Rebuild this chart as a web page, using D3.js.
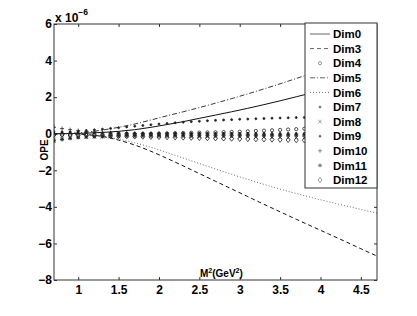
<!DOCTYPE html>
<html>
<head>
<meta charset="utf-8">
<script src="https://cdn.jsdelivr.net/npm/d3@7"></script>
<style>
  body { margin: 0; background: #fff; }
  svg { display: block; font-family: "Liberation Sans", Arial, Helvetica, sans-serif; font-weight: bold; }
</style>
</head>
<body>
<svg width="417" height="316"></svg>
<script>
// values in units of 1e-6
var lineM2 = [0.7,0.9,1.1,1.3,1.5,1.7,1.9,2.1,2.3,2.5,2.7,2.9,3.1,3.3,3.5,3.7,3.9,4.1,4.3,4.5,4.7];
var dim0 = [0.00,0.01,0.03,0.07,0.13,0.22,0.35,0.50,0.66,0.84,1.02,1.20,1.39,1.59,1.80,2.02,2.24,2.46,2.68,2.90,3.12];
var dim3 = [0.00,-0.01,-0.05,-0.15,-0.35,-0.62,-0.96,-1.35,-1.76,-2.18,-2.60,-3.02,-3.44,-3.86,-4.27,-4.68,-5.08,-5.48,-5.88,-6.29,-6.69];
var dim5 = [0.00,0.02,0.08,0.20,0.35,0.53,0.75,0.98,1.20,1.43,1.67,1.92,2.18,2.45,2.73,3.02,3.32,3.63,3.95,4.28,4.62];
var dim6 = [0.00,-0.01,-0.05,-0.14,-0.30,-0.50,-0.74,-1.03,-1.33,-1.63,-1.93,-2.22,-2.50,-2.77,-3.03,-3.27,-3.50,-3.72,-3.93,-4.14,-4.34];

var m2 = [0.7,0.8,0.9,
  1.0,1.1,1.2,1.3,1.4,1.5,1.6,1.7,1.8,1.9,
  2.0,2.1,2.2,2.3,2.4,2.5,2.6,2.7,2.8,2.9,
  3.0,3.1,3.2,3.3,3.4,3.5,3.6,3.7,3.8,3.9,
  4.0,4.1,4.2,4.3,4.4,4.5,4.6,4.7];
var dim4 = [-0.06,-0.05,-0.05,
  -0.04,-0.04,-0.03,-0.03,-0.02,-0.02,-0.01,-0.01,0.00,0.00,
  0.01,0.02,0.03,0.04,0.05,0.06,0.07,0.08,0.09,0.10,
  0.11,0.13,0.15,0.17,0.19,0.21,0.23,0.25,0.27,0.29,
  0.31,0.33,0.35,0.37,0.39,0.41,0.43,0.45];
var dim7 = [0.12,0.10,0.08,
  0.07,0.06,0.05,0.05,0.04,0.04,0.04,0.03,0.03,0.03,
  0.03,0.03,0.03,0.02,0.02,0.02,0.02,0.02,0.02,0.02,
  0.02,0.02,0.02,0.02,0.01,0.01,0.01,0.01,0.01,0.01,
  0.01,0.01,0.01,0.01,0.01,0.01,0.01,0.01];
var dim8 = [-0.30,-0.26,-0.23,
  -0.21,-0.19,-0.18,-0.17,-0.16,-0.16,-0.15,-0.15,-0.15,-0.15,
  -0.15,-0.15,-0.15,-0.15,-0.16,-0.16,-0.16,-0.17,-0.17,-0.17,
  -0.18,-0.18,-0.19,-0.19,-0.20,-0.20,-0.21,-0.21,-0.22,-0.22,
  -0.23,-0.23,-0.24,-0.24,-0.25,-0.25,-0.26,-0.26];
var dim9 = [0.02,0.05,0.09,
  0.13,0.17,0.21,0.25,0.29,0.33,0.37,0.41,0.45,0.49,
  0.53,0.56,0.60,0.63,0.66,0.68,0.71,0.73,0.75,0.77,
  0.79,0.80,0.82,0.83,0.85,0.86,0.87,0.88,0.89,0.90,
  0.90,0.91,0.91,0.92,0.92,0.92,0.93,0.93];
var dim10 = [0.35,0.28,0.22,
  0.17,0.13,0.10,0.07,0.05,0.03,0.02,0.01,0.00,0.00,
  -0.01,-0.01,-0.01,-0.01,-0.02,-0.02,-0.02,-0.02,-0.02,-0.02,
  -0.03,-0.03,-0.03,-0.03,-0.03,-0.03,-0.03,-0.03,-0.03,-0.03,
  -0.04,-0.04,-0.04,-0.04,-0.04,-0.04,-0.04,-0.04];
var dim11 = [-0.40,-0.32,-0.26,
  -0.21,-0.18,-0.15,-0.13,-0.12,-0.11,-0.10,-0.10,-0.09,-0.09,
  -0.09,-0.09,-0.09,-0.09,-0.09,-0.09,-0.09,-0.09,-0.09,-0.09,
  -0.09,-0.09,-0.09,-0.09,-0.09,-0.09,-0.09,-0.09,-0.09,-0.09,
  -0.09,-0.09,-0.09,-0.09,-0.09,-0.09,-0.09,-0.09];
var dim12 = [-0.05,-0.06,-0.07,
  -0.08,-0.09,-0.10,-0.11,-0.12,-0.13,-0.14,-0.15,-0.16,-0.17,
  -0.18,-0.19,-0.20,-0.21,-0.22,-0.23,-0.24,-0.25,-0.26,-0.27,
  -0.28,-0.29,-0.30,-0.31,-0.32,-0.33,-0.34,-0.35,-0.36,-0.37,
  -0.38,-0.39,-0.40,-0.41,-0.42,-0.43,-0.44,-0.45];

var xTicks = [1,1.5,2,2.5,3,3.5,4,4.5];
var yTicks = [-8,-6,-4,-2,0,2,4,6];

var lineSeries = [
  {name:'Dim0', values: dim0, dash: null, color:'#111', w:1},
  {name:'Dim3', values: dim3, dash: '4,3', color:'#111', w:1},
  {name:'Dim5', values: dim5, dash: '5,2,1,2', color:'#222', w:0.9},
  {name:'Dim6', values: dim6, dash: '1,2', color:'#444', w:0.8}
];
var markSeries = [
  {name:'Dim4', values: dim4, mark:'o'},
  {name:'Dim7', values: dim7, mark:'s'},
  {name:'Dim8', values: dim8, mark:'x'},
  {name:'Dim9', values: dim9, mark:'.'},
  {name:'Dim10', values: dim10, mark:'+'},
  {name:'Dim11', values: dim11, mark:'*'},
  {name:'Dim12', values: dim12, mark:'d'}
];
var legendOrder = ['Dim0','Dim3','Dim4','Dim5','Dim6','Dim7','Dim8','Dim9','Dim10','Dim11','Dim12'];

var plotLeft = 54, plotRight = 377, plotTop = 24, plotBottom = 280;
var axisColor = '#333';

var svg = d3.select('svg');
var x = d3.scaleLinear().domain([0.7, 4.7]).range([plotLeft, plotRight]);
var y = d3.scaleLinear().domain([-8, 6]).range([plotBottom, plotTop]);

svg.append('clipPath').attr('id','clip')
  .append('rect').attr('x', plotLeft).attr('y', plotTop).attr('width', plotRight-plotLeft).attr('height', plotBottom-plotTop);

// axes, inward ticks on all four sides
var gx = svg.append('g').attr('transform','translate(0,' + plotBottom + ')')
  .call(d3.axisBottom(x).tickValues(xTicks).tickFormat(d3.format('')).tickSizeInner(-3).tickSizeOuter(0).tickPadding(5.5));
var gy = svg.append('g').attr('transform','translate(' + plotLeft + ',0)')
  .call(d3.axisLeft(y).tickValues(yTicks).tickSizeInner(-3).tickSizeOuter(0).tickPadding(2));
var gt = svg.append('g').attr('transform','translate(0,' + plotTop + ')')
  .call(d3.axisTop(x).tickValues(xTicks).tickFormat('').tickSizeInner(-3).tickSizeOuter(0));
var gr = svg.append('g').attr('transform','translate(' + plotRight + ',0)')
  .call(d3.axisRight(y).tickValues(yTicks).tickFormat('').tickSizeInner(-3).tickSizeOuter(0));
[gx, gy, gt, gr].forEach(function(g){
  g.select('.domain').remove();
  g.selectAll('line').attr('stroke', axisColor);
  g.selectAll('text').attr('fill','#000').style('font-size','12px').style('font-weight','bold')
    .style('font-family','"Liberation Sans", Arial, sans-serif');
});

svg.append('rect').attr('x', plotLeft).attr('y', plotTop).attr('width', plotRight-plotLeft).attr('height', plotBottom-plotTop)
  .attr('fill','none').attr('stroke', axisColor).attr('stroke-width', 1);

var plot = svg.append('g').attr('clip-path','url(#clip)');

var line = d3.line()
  .x(function(d, i){ return x(lineM2[i]); })
  .y(function(d){ return y(d); })
  .curve(d3.curveMonotoneX);

plot.selectAll('.series')
  .data(lineSeries)
  .enter()
  .append('path')
  .attr('d', function(d){ return line(d.values); })
  .attr('fill','none')
  .attr('stroke', function(d){ return d.color; })
  .attr('stroke-width', function(d){ return d.w; })
  .attr('stroke-dasharray', function(d){ return d.dash; });

function markerPath(t){
  var r = 2;
  if (t === 'o') return 'M1.6,0A1.6,1.6 0 1,1 -1.6,0A1.6,1.6 0 1,1 1.6,0';
  if (t === 'x') return 'M-1.6,-1.6L1.6,1.6M-1.6,1.6L1.6,-1.6';
  if (t === '+') return 'M-' + r + ',0L' + r + ',0M0,-' + r + 'L0,' + r;
  if (t === '*') return 'M-2,0L2,0M0,-2L0,2M-1.5,-1.5L1.5,1.5M-1.5,1.5L1.5,-1.5';
  if (t === 'd') return 'M0,-2.6L2,0L0,2.6L-2,0Z';
  if (t === 's') return 'M-0.8,-0.8L0.8,-0.8L0.8,0.8L-0.8,0.8Z';
  return 'M1,0A1,1 0 1,1 -1,0A1,1 0 1,1 1,0';
}
function markFill(t){ return (t === '.' || t === 's') ? '#222' : 'none'; }

markSeries.forEach(function(s){
  plot.selectAll(null)
    .data(s.values)
    .enter()
    .append('path')
    .attr('transform', function(d, i){ return 'translate(' + x(m2[i]) + ',' + y(d) + ')'; })
    .attr('d', markerPath(s.mark))
    .attr('fill', markFill(s.mark))
    .attr('stroke','#222')
    .attr('stroke-width', 0.8);
});

// axis labels
svg.append('text').attr('x', 200).attr('y', 277).style('font-size','10px')
  .html('M<tspan dy="-4" font-size="7px">2</tspan><tspan dy="4">(GeV</tspan><tspan dy="-4" font-size="7px">2</tspan><tspan dy="4">)</tspan>');
svg.append('text').attr('transform','translate(48,150) rotate(-90)').attr('text-anchor','middle')
  .style('font-size','10px').text('OPE');
svg.append('text').attr('x', 55).attr('y', 21.5).style('font-size','12px')
  .html('x 10<tspan dy="-7" font-size="8.5px">\u22126</tspan>');

// legend
var legend = svg.append('g');
legend.append('rect').attr('x', 305).attr('y', 23).attr('width', plotRight-305).attr('height', 165)
  .attr('fill','#fff').attr('stroke', axisColor).attr('stroke-width', 1);

var rows = legend.selectAll('.row')
  .data(legendOrder)
  .enter()
  .append('g')
  .attr('transform', function(d, i){ return 'translate(0,' + (34 + i*14.6) + ')'; });

rows.each(function(name){
  var g = d3.select(this);
  var ls = lineSeries.filter(function(s){ return s.name === name; })[0];
  var ms = markSeries.filter(function(s){ return s.name === name; })[0];
  if (ls) {
    g.append('line').attr('x1', 310).attr('x2', 330).attr('y1', 0).attr('y2', 0)
      .attr('stroke','#666').attr('stroke-width',1).attr('stroke-dasharray', ls.dash);
  } else {
    g.append('path').attr('transform','translate(320,0)').attr('d', markerPath(ms.mark))
      .attr('fill', markFill(ms.mark) === 'none' ? 'none' : '#666').attr('stroke','#666').attr('stroke-width',0.7);
  }
  g.append('text').attr('x', 333).attr('dy','0.36em').style('font-size','11.5px').text(name);
});
</script>
</body>
</html>
